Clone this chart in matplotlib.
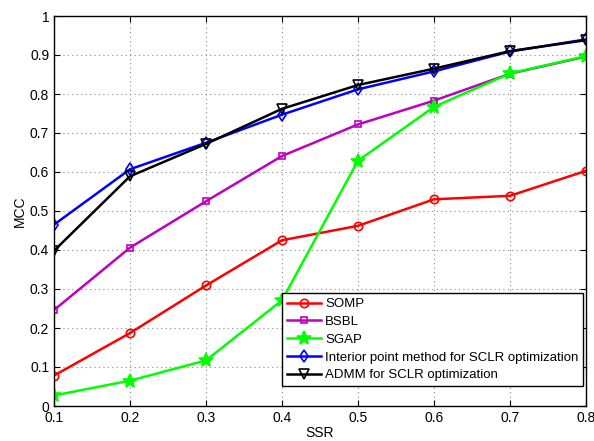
import matplotlib
matplotlib.use('Agg')
import matplotlib.pyplot as plt
import numpy as np

plt.rcParams['font.family'] = ['Liberation Sans', 'DejaVu Sans']

ssr = [0.1, 0.2, 0.3, 0.4, 0.5, 0.6, 0.7, 0.8]
somp = [0.078, 0.187, 0.309, 0.425, 0.462, 0.530, 0.539, 0.603]
bsbl = [0.246, 0.406, 0.525, 0.641, 0.722, 0.783, 0.852, 0.896]
sgap = [0.027, 0.065, 0.117, 0.271, 0.629, 0.767, 0.853, 0.897]
interior = [0.465, 0.607, 0.675, 0.747, 0.812, 0.858, 0.909, 0.940]
admm = [0.398, 0.589, 0.672, 0.762, 0.823, 0.865, 0.910, 0.938]

labels = ['SOMP', 'BSBL', 'SGAP', 'Interior point method for SCLR optimization',
          'ADMM for SCLR optimization']
series = [somp, bsbl, sgap, interior, admm]
colors = ['#ff0000', '#bf00bf', '#00ff00', '#0000ff', '#000000']
markers = ['o', 's', '*', 'd', 'v']
msizes = [6, 5, 10, 6, 7]

fig = plt.figure(figsize=(5.94, 4.41), dpi=100)
ax = fig.add_axes([54/594, 1-406/441, (586-54)/594, (406-16)/441])

for y, lab, c, m, ms in zip(series, labels, colors, markers, msizes):
    ax.plot(ssr, y, color=c, lw=1.8, marker=m, markersize=ms,
            markerfacecolor='none' if m != '*' else c, markeredgecolor=c,
            markeredgewidth=1.2, label=lab)

ax.set_xlim(0.1, 0.8)
ax.set_ylim(0, 1)
ax.set_xticks(np.arange(0.1, 0.81, 0.1))
ax.set_xticklabels(['0.1', '0.2', '0.3', '0.4', '0.5', '0.6', '0.7', '0.8'])
ax.set_yticks(np.arange(0, 1.01, 0.1))
ax.set_yticklabels(['0', '0.1', '0.2', '0.3', '0.4', '0.5', '0.6', '0.7', '0.8', '0.9', '1'])
ax.grid(True, linestyle=(0, (1, 3)), color='#888888', lw=0.8)
ax.tick_params(direction='in', top=True, right=True, labelsize=10, length=4)
for s in ax.spines.values():
    s.set_linewidth(1.0)
ax.set_xlabel('SSR', fontsize=10, labelpad=1)
ax.set_ylabel('MCC', fontsize=10, labelpad=2)

leg = ax.legend(loc='lower right', bbox_to_anchor=(529/532, 20/390), fontsize=9.5,
                fancybox=False, framealpha=1, edgecolor='black', borderpad=0.35,
                labelspacing=0.42, handlelength=2.6, handletextpad=0.3, borderaxespad=0)
leg.get_frame().set_linewidth(1.0)

fig.savefig('out.png', dpi=100)
